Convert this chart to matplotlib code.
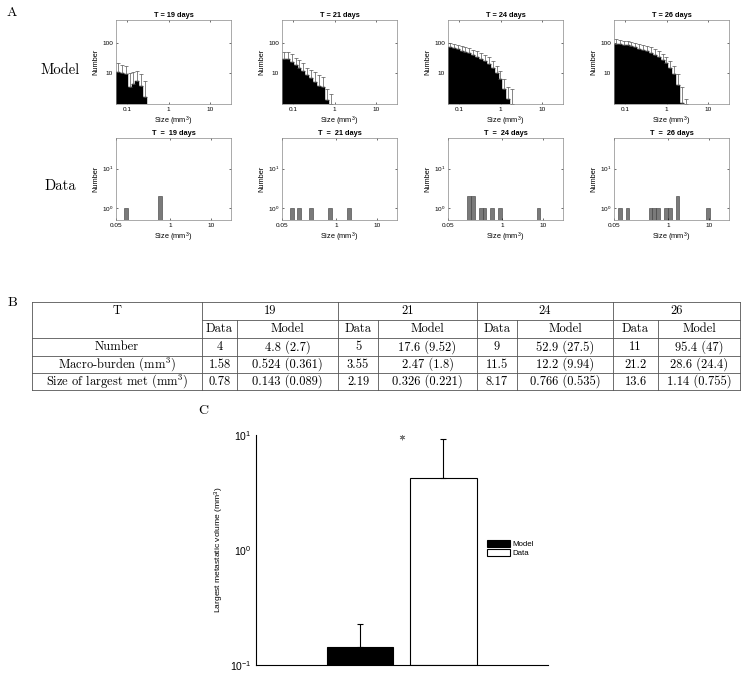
import numpy as np
import matplotlib
matplotlib.use("Agg")
import matplotlib.pyplot as plt
from matplotlib.ticker import FixedLocator, NullLocator, FixedFormatter

plt.rcParams['mathtext.fontset'] = 'cm'
plt.rcParams['font.family'] = ['Liberation Sans', 'DejaVu Sans']
plt.rcParams['axes.linewidth'] = 0.6

# ---------------- data ----------------
days = [19, 21, 24, 26]
# model histograms: mean bar height per log bin (first bin at left edge) and upper error
model_mean = [
    [11.3, 10.2, 9.5, 3.7, 4.4, 5.5, 4.0, 1.7],
    [29, 29, 23, 18.5, 15, 11.5, 9, 7, 5.3, 4, 3.5, 1.4, 0],
    [73, 67, 61, 55, 50, 45, 40, 35, 30, 25, 20, 15.5, 10, 6.3, 3.2, 1.5, 0],
    [93, 88, 84, 82, 76, 70, 64, 58, 52, 46, 40, 33, 27, 21, 15, 9.3, 4.1, 1.1, 0],
]
model_err = [
    [9.7, 8.8, 8.2, 6.3, 6.4, 6.7, 5.5, 3.8],
    [21, 21, 18.7, 14, 11.5, 9.5, 6.3, 5.8, 5.7, 5, 3.9, 1.6, 2.1],
    [27, 25, 24, 23, 22, 20, 19, 18, 16, 15, 13, 10.5, 7, 5.7, 3.3, 2, 3],
    [35, 34, 33, 32, 31, 30, 29, 28, 26, 24, 22, 20, 17, 14, 11, 8, 5.5, 2.5, 1.5],
]
# observed metastases sizes (mm^3) for each day
data_sizes = [
    [0.082, 0.62, 0.62],
    [0.088, 0.136, 0.263, 0.805, 2.0],
    [0.167, 0.167, 0.214, 0.214, 0.34, 0.425, 0.62, 1.0, 7.3],
    [0.069, 0.106, 0.36, 0.448, 0.558, 0.818, 1.02, 1.55, 1.55, 9.66],
]

# table
table_groups = ["19", "21", "24", "26"]
row_labels = ["Number", "Macro-burden (mm$^3$)", "Size of largest met (mm$^3$)"]
table_data = [["4", "5", "9", "11"],
              ["1.58", "3.55", "11.5", "21.2"],
              ["0.78", "2.19", "8.17", "13.6"]]
table_model = [["4.8 (2.7)", "17.6 (9.52)", "52.9 (27.5)", "95.4 (47)"],
               ["0.524 (0.361)", "2.47 (1.8)", "12.2 (9.94)", "28.6 (24.4)"],
               ["0.143 (0.089)", "0.326 (0.221)", "0.766 (0.535)", "1.14 (0.755)"]]

# panel C
c_labels = ["Model", "Data"]
c_values = [0.1426, 4.26]
c_errors = [0.085, 5.05]

# ---------------- figure ----------------
W, H = 750, 676
fig = plt.figure(figsize=(W / 100, H / 100), dpi=100)


def ax_px(x0, y0, x1, y1):
    return fig.add_axes([x0 / W, 1 - y1 / H, (x1 - x0) / W, (y1 - y0) / H])


lefts = [116, 282, 448, 614]
pw = 115
binw = 0.093  # decades
xlo_model = 0.055
xlo_data = 0.05
tick_fs = 4.6
lab_fs = 5.3
mm3 = r"Size (mm$\mathregular{^3}$)"

for i, d in enumerate(days):
    # ---- model row ----
    ax = ax_px(lefts[i], 20, lefts[i] + pw, 104)
    m = np.array(model_mean[i], dtype=float)
    e = np.array(model_err[i], dtype=float)
    k = np.arange(len(m))
    le = xlo_model * 10 ** (binw * k)
    re = xlo_model * 10 ** (binw * (k + 1))
    ctr = np.sqrt(le * re)
    hv = np.where(m > 0, m, 1e-3)
    ax.bar(le, hv, width=re - le, align='edge', bottom=1e-3, color='black',
           edgecolor='black', linewidth=0.3)
    base = np.where(m > 0, m, 1.0)
    ax.errorbar(ctr, base, yerr=[np.zeros_like(e), np.where(m > 0, e, e - 1.0)],
                fmt='none', ecolor='#555555', elinewidth=0.5, capsize=1.3, capthick=0.5)
    ax.set_xscale('log')
    ax.set_yscale('log')
    ax.set_xlim(0.055, 31)
    ax.set_ylim(1, 550)
    ax.xaxis.set_major_locator(FixedLocator([0.1, 1, 10]))
    ax.xaxis.set_major_formatter(FixedFormatter(['0.1', '1', '10']))
    ax.xaxis.set_minor_locator(NullLocator())
    ax.yaxis.set_major_locator(FixedLocator([10, 100]))
    ax.yaxis.set_major_formatter(FixedFormatter(['10', '100']))
    ax.yaxis.set_minor_locator(NullLocator())
    ax.tick_params(labelsize=tick_fs, length=1.5, width=0.4, direction='in', pad=2,
                   top=True, right=True)
    for s in ax.spines.values():
        s.set_color('#888888')
        s.set_linewidth(0.5)
    ax.set_title(f"T = {d} days", fontsize=lab_fs, fontweight='bold', pad=2.5)
    ax.set_xlabel(mm3, fontsize=lab_fs, labelpad=2)
    ax.set_ylabel("Number", fontsize=lab_fs, labelpad=2)

    # ---- data row ----
    ax = ax_px(lefts[i], 138, lefts[i] + pw, 220)
    sz = np.array(data_sizes[i])
    idx = np.floor((np.log10(sz) - np.log10(xlo_data)) / binw).astype(int)
    ub, cnt = np.unique(idx, return_counts=True)
    le = xlo_data * 10 ** (binw * ub)
    re = xlo_data * 10 ** (binw * (ub + 1))
    ax.bar(le, cnt - 0.3, width=re - le, align='edge', bottom=0.3, color='#7a7a7a',
           edgecolor='#3a3a3a', linewidth=0.4)
    ax.set_xscale('log')
    ax.set_yscale('log')
    ax.set_xlim(0.05, 30)
    ax.set_ylim(0.5, 60)
    ax.xaxis.set_major_locator(FixedLocator([0.05, 1, 10]))
    ax.xaxis.set_major_formatter(FixedFormatter(['0.05', '1', '10']))
    ax.xaxis.set_minor_locator(NullLocator())
    ax.yaxis.set_major_locator(FixedLocator([1, 10]))
    ax.yaxis.set_major_formatter(FixedFormatter([r'$\mathregular{10^0}$',
                                                 r'$\mathregular{10^1}$']))
    ax.yaxis.set_minor_locator(NullLocator())
    ax.tick_params(labelsize=tick_fs, length=1.5, width=0.4, direction='in', pad=2,
                   top=True, right=True)
    for s in ax.spines.values():
        s.set_color('#888888')
        s.set_linewidth(0.5)
    ax.set_title(f"T  =  {d} days", fontsize=lab_fs, fontweight='bold', pad=2.5)
    ax.set_xlabel(mm3, fontsize=lab_fs, labelpad=2)
    ax.set_ylabel("Number", fontsize=lab_fs, labelpad=2)

serif = dict(family='cmr10')
fig.text(7 / W, 1 - 13 / H, "A", fontsize=10, va='center', ha='left', **serif)
fig.text(60 / W, 1 - 70 / H, "Model", fontsize=10.5, va='center', ha='center', **serif)
fig.text(60 / W, 1 - 186 / H, "Data", fontsize=10.5, va='center', ha='center', **serif)
fig.text(8 / W, 1 - 303 / H, "B", fontsize=10, va='center', ha='left', **serif)
fig.text(198 / W, 1 - 411 / H, "C", fontsize=10, va='center', ha='left', **serif)

# ---------------- table ----------------
tax = fig.add_axes([0, 0, 1, 1])
tax.set_xlim(0, W)
tax.set_ylim(H, 0)
tax.axis('off')
col_x = [32, 202, 237, 338, 378, 477, 517, 613, 658, 740]
row_y = [302, 320, 338, 356, 373, 390]
lc = '#555555'
lw = 0.6
# horizontal lines
for j, y in enumerate(row_y):
    if j == 1:
        tax.plot([col_x[1], col_x[-1]], [y, y], color=lc, lw=lw)
    else:
        tax.plot([col_x[0], col_x[-1]], [y, y], color=lc, lw=lw)
# vertical lines
for j, x in enumerate(col_x):
    if j in (0, 1, 3, 5, 7, 9):
        tax.plot([x, x], [row_y[0], row_y[-1]], color=lc, lw=lw)
    else:
        tax.plot([x, x], [row_y[1], row_y[-1]], color=lc, lw=lw)
tfs = 9.0


def cell(x0, x1, r, s):
    yc = (row_y[r] + row_y[r + 1]) / 2
    tax.text((x0 + x1) / 2, yc, s, ha='center', va='center', fontsize=tfs, **serif)


cell(col_x[0], col_x[1], 0, "T")
for g in range(4):
    a, b, c = col_x[1 + 2 * g], col_x[2 + 2 * g], col_x[3 + 2 * g]
    cell(a, c, 0, table_groups[g])
    cell(a, b, 1, "Data")
    cell(b, c, 1, "Model")
    for r in range(3):
        cell(a, b, 2 + r, table_data[r][g])
        cell(b, c, 2 + r, table_model[r][g])
for r in range(3):
    cell(col_x[0], col_x[1], 2 + r, row_labels[r])

# ---------------- panel C ----------------
cax = ax_px(255.7, 435, 547.7, 665)
xpos = np.arange(1, len(c_values) + 1)
bars = cax.bar(xpos, [v - 0.1 for v in c_values], bottom=0.1, width=0.8,
               color=['black', 'white'], edgecolor='black', linewidth=0.8)
cax.errorbar(xpos, c_values, yerr=[np.zeros(2), c_errors], fmt='none', ecolor='black',
             elinewidth=0.8, capsize=2, capthick=0.8)
cax.set_yscale('log')
cax.set_ylim(0.1, 10)
cax.set_xlim(-0.25, 3.25)
cax.set_xticks([])
cax.yaxis.set_major_locator(FixedLocator([0.1, 1, 10]))
cax.yaxis.set_major_formatter(FixedFormatter([r'$\mathregular{10^{-1}}$',
                                              r'$\mathregular{10^0}$',
                                              r'$\mathregular{10^1}$']))
cax.yaxis.set_minor_locator(NullLocator())
cax.tick_params(axis='y', labelsize=7.5, length=0, pad=3)
cax.spines['top'].set_visible(False)
cax.spines['right'].set_visible(False)
cax.spines['left'].set_linewidth(0.8)
cax.spines['bottom'].set_linewidth(0.8)
cax.set_ylabel(r"Largest metastatic volume (mm$\mathregular{^3}$)", fontsize=6.1,
               labelpad=3)
cax.plot([1.5], [9.6], marker=(6, 2, 0), color='#777777', markersize=4, mew=0.6,
         linestyle='none')
cax.legend(bars, c_labels, loc='upper left', bbox_to_anchor=(0.78, 0.56),
           fontsize=5.7, frameon=False, handlelength=2.8, handleheight=0.9,
           borderpad=0, labelspacing=0.15, handletextpad=0.3)

fig.savefig("out.png", dpi=100)
